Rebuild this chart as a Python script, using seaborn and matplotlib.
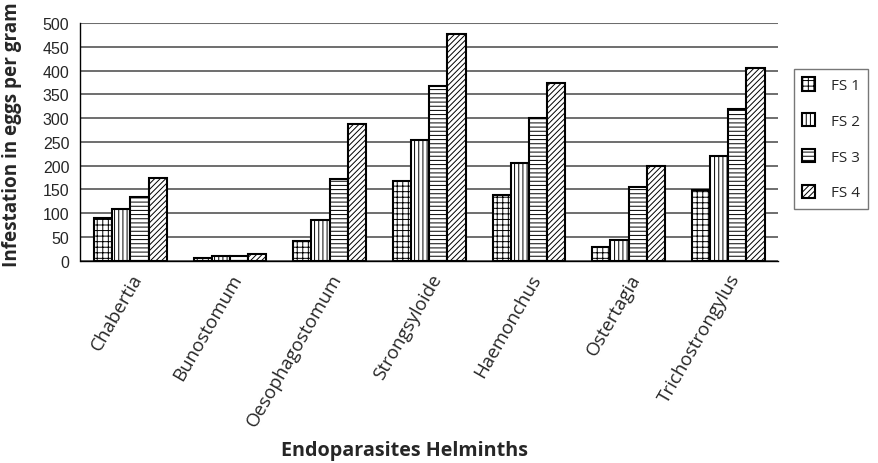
import numpy as np
import pandas as pd
import matplotlib
matplotlib.use("Agg")
import matplotlib.pyplot as plt
import seaborn as sns
from matplotlib.patches import Patch

# data
categorias = ["Chabertia", "Bunostomum", "Oesophagostomum", "Strongsyloide",
              "Haemonchus", "Ostertagia", "Trichostrongylus"]
fs1 = [90, 5, 42, 168, 138, 29, 149]
fs2 = [109, 10, 86, 254, 206, 43, 220]
fs3 = [135, 10, 172, 367, 300, 155, 320]
fs4 = [175, 15, 288, 477, 374, 200, 405]
series = ["FS 1", "FS 2", "FS 3", "FS 4"]
hatches = ["+++", "||||", "----", "//////"]

df = pd.DataFrame({"Helminth": categorias * 4,
                   "Serie": np.repeat(series, len(categorias)),
                   "Valor": fs1 + fs2 + fs3 + fs4})

sns.set_style("white")
plt.rcParams["font.family"] = ["Liberation Sans", "DejaVu Sans"]
plt.rcParams["hatch.linewidth"] = 0.7

fig = plt.figure(figsize=(8.79, 4.64), dpi=100)
ax = fig.add_axes([80.5 / 879, 1 - 261.7 / 464, (778 - 80.5) / 879, (261.7 - 24) / 464])

sns.barplot(data=df, x="Helminth", y="Valor", hue="Serie", order=categorias,
            hue_order=series, color="white", width=0.73, saturation=1,
            edgecolor="black", linewidth=1.5, legend=False, ax=ax)

for cont, h in zip(ax.containers, hatches):
    for bar in cont:
        bar.set_facecolor("white")
        bar.set_hatch(h)

ax.set_ylim(0, 500)
ax.set_xlim(-0.5, len(categorias) - 0.5)
ax.set_yticks(range(0, 501, 50))
ax.yaxis.grid(True, color="#555555", linewidth=1.2)
ax.set_axisbelow(True)
for s in ["top", "right"]:
    ax.spines[s].set_visible(False)
ax.spines["left"].set_color("black")
ax.spines["bottom"].set_color("black")
ax.spines["left"].set_linewidth(1.0)
ax.spines["bottom"].set_linewidth(1.0)
ax.axhline(500, color="#e6e6e6", linewidth=1.0, zorder=0)

ax.set_xticks(np.arange(-0.5, len(categorias), 1), minor=True)
ax.tick_params(axis="x", which="minor", length=5, direction="out", color="black")
ax.tick_params(axis="x", which="major", length=0, pad=7)
ax.tick_params(axis="y", length=5, direction="out", color="black", pad=3, labelsize=11.5)
ax.set_xticks(range(len(categorias)))
ax.set_xticklabels(categorias, rotation=60, ha="right", rotation_mode="anchor",
                   fontsize=13.5, family="Open Sans")

ax.set_xlabel("")
ax.set_ylabel("Infestation in eggs per gram", fontsize=13.6, fontweight="bold",
              family="Open Sans")
ax.yaxis.set_label_coords(-0.084, 0.535)
fig.text(405 / 879, 1 - 456 / 464, "Endoparasites Helminths", fontsize=14.2,
         fontweight="bold", family="Open Sans", ha="center", va="baseline")

handles = [Patch(facecolor="white", edgecolor="black", hatch=h, linewidth=1.5) for h in hatches]
leg = fig.legend(handles, series, loc="upper left", bbox_to_anchor=(794 / 879, 1 - 70 / 464),
                 frameon=True, fancybox=False, edgecolor="#555555",
                 prop={"family": "Open Sans", "size": 11}, handlelength=0.8, handleheight=0.95,
                 labelspacing=1.3, borderpad=0.55, handletextpad=1.05, borderaxespad=0)
leg.get_frame().set_linewidth(1.0)

plt.savefig("out.png", dpi=100)
